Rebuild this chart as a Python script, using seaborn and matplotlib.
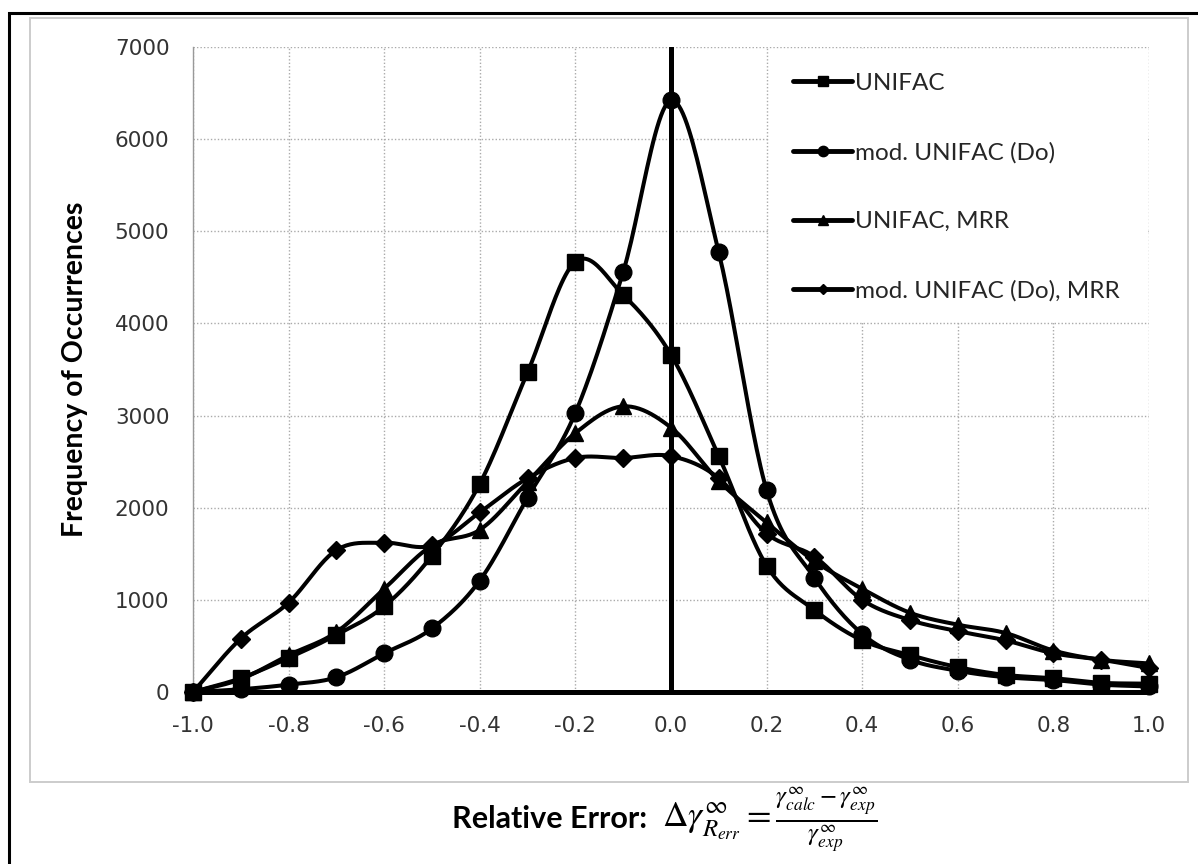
import numpy as np
import pandas as pd
import matplotlib
matplotlib.use("Agg")
import matplotlib.pyplot as plt
import seaborn as sns
from matplotlib.lines import Line2D
from matplotlib.patches import Rectangle
from matplotlib.ticker import FixedLocator, FuncFormatter

# Relative error bins and the number of occurrences for each model
rel_error = [-1.0, -0.9, -0.8, -0.7, -0.6, -0.5, -0.4, -0.3, -0.2, -0.1, 0.0,
             0.1, 0.2, 0.3, 0.4, 0.5, 0.6, 0.7, 0.8, 0.9, 1.0]
unifac = [0, 150, 370, 620, 930, 1480, 2260, 3470, 4670, 4310, 3660,
          2560, 1370, 890, 560, 400, 270, 185, 150, 100, 90]
mod_unifac_do = [0, 30, 80, 160, 420, 690, 1210, 2110, 3030, 4560, 6420,
                 4770, 2190, 1240, 630, 350, 230, 160, 130, 80, 60]
unifac_mrr = [0, 140, 400, 650, 1120, 1590, 1760, 2280, 2810, 3100, 2870,
              2290, 1840, 1420, 1120, 860, 730, 640, 450, 350, 310]
mod_unifac_do_mrr = [0, 580, 970, 1540, 1620, 1590, 1950, 2320, 2540, 2540, 2560,
                     2320, 1720, 1470, 1000, 780, 660, 560, 420, 350, 260]

series_names = ["UNIFAC", "mod. UNIFAC (Do)", "UNIFAC, MRR", "mod. UNIFAC (Do), MRR"]
series_values = [unifac, mod_unifac_do, unifac_mrr, mod_unifac_do_mrr]
series_markers = ["s", "o", "^", "D"]
series_msize = [12, 12, 12, 9]

x_ticks = [-1.0, -0.8, -0.6, -0.4, -0.2, 0.0, 0.2, 0.4, 0.6, 0.8, 1.0]
y_ticks = [0, 1000, 2000, 3000, 4000, 5000, 6000, 7000]


def smooth_curve(x, y, steps=24):
    """Catmull-Rom spline through the points (the usual 'smoothed line')."""
    x = np.asarray(x, float)
    y = np.asarray(y, float)
    px = np.concatenate([[2 * x[0] - x[1]], x, [2 * x[-1] - x[-2]]])
    py = np.concatenate([[2 * y[0] - y[1]], y, [2 * y[-1] - y[-2]]])
    t = np.linspace(0, 1, steps, endpoint=False)
    xs, ys = [], []
    for i in range(1, len(px) - 2):
        for p, out in ((px, xs), (py, ys)):
            p0, p1, p2, p3 = p[i - 1], p[i], p[i + 1], p[i + 2]
            out.append(0.5 * (2 * p1 + (-p0 + p2) * t
                              + (2 * p0 - 5 * p1 + 4 * p2 - p3) * t ** 2
                              + (-p0 + 3 * p1 - 3 * p2 + p3) * t ** 3))
    xs.append([x[-1]])
    ys.append([y[-1]])
    return np.concatenate(xs), np.concatenate(ys)


sns.set_theme(style="white")
plt.rcParams["font.family"] = ["DejaVu Sans"]
plt.rcParams["axes.unicode_minus"] = False
plt.rcParams["mathtext.fontset"] = "stix"

fig = plt.figure(figsize=(11.98, 8.64), dpi=100)
fig.patch.set_facecolor("white")
ax = fig.add_axes([193 / 1198, 1 - 692 / 864, 956 / 1198, 645 / 864])
ax.set_facecolor("white")

# Outer frame (left/top black rule) and the light grey chart-area border
fig.add_artist(Rectangle((8.5 / 1198, -0.2), 1.5, 1.2 - 12.5 / 864,
                         transform=fig.transFigure, fill=False,
                         edgecolor="black", lw=2.2, clip_on=False))
fig.add_artist(Rectangle((30 / 1198, 1 - 782 / 864), 1158 / 1198, 764 / 864,
                         transform=fig.transFigure, fill=False,
                         edgecolor="#cccccc", lw=1.4))

# Smoothed curves drawn with seaborn, markers at the actual bins
for name, vals, mk, ms in zip(series_names, series_values, series_markers, series_msize):
    sx, sy = smooth_curve(rel_error, vals)
    curve = pd.DataFrame({"x": sx, "y": sy})
    sns.lineplot(data=curve, x="x", y="y", ax=ax, color="black", lw=2.9,
                 estimator=None, sort=False, zorder=3)
    pts = pd.DataFrame({"x": rel_error, "y": vals})
    ax.plot(pts["x"], pts["y"], ls="none", marker=mk, ms=ms, color="black",
            mec="black", zorder=4, clip_on=False)

ax.axvline(0.0, color="black", lw=3.6, zorder=2.6)

ax.set_xlim(-1.0, 1.0)
ax.set_ylim(0, 7000)
ax.xaxis.set_major_locator(FixedLocator(x_ticks))
ax.yaxis.set_major_locator(FixedLocator(y_ticks))
ax.xaxis.set_major_formatter(FuncFormatter(lambda v, p: f"{v:.1f}".replace("-0.0", "0.0")))
ax.yaxis.set_major_formatter(FuncFormatter(lambda v, p: f"{int(round(v))}"))

ax.grid(True, color="#aaaaaa", linestyle=(0, (1, 1.5)), lw=1.0)
ax.set_axisbelow(True)
for side in ("top", "right"):
    ax.spines[side].set_visible(False)
ax.spines["left"].set_color("#999999")
ax.spines["left"].set_linewidth(1.0)
ax.spines["bottom"].set_color("black")
ax.spines["bottom"].set_linewidth(3.6)
ax.spines["bottom"].set_zorder(2.6)

ax.tick_params(axis="y", direction="out", length=5, width=1, color="#999999",
               labelsize=15.5, labelcolor="#333333", pad=12)
ax.tick_params(axis="x", length=0, labelsize=15.5, labelcolor="#333333", pad=17)

ax.set_xlabel("")
ax.set_ylabel("Frequency of Occurrences", family="Lato", weight="bold",
              fontsize=20.5, color="black", labelpad=19)

# Legend panel
ax.add_patch(Rectangle((0.6 + 0.002, 4 / 7 + 0.003), 0.4 - 0.004, 3 / 7 - 0.006,
                       transform=ax.transAxes, facecolor="white",
                       edgecolor="none", zorder=1))
handles = [Line2D([], [], color="black", lw=3.5, marker=mk, ms=ms * 0.62)
           for mk, ms in zip(series_markers, series_msize)]
leg = ax.legend(handles, series_names, loc="upper left",
                bbox_to_anchor=(0.628, 0.960), frameon=False,
                prop={"family": "Lato", "size": 17.5},
                handlelength=2.4, handletextpad=0.15, labelspacing=1.97,
                borderpad=0, borderaxespad=0)
leg.set_zorder(5)

# Axis title with the relative error definition
fig.text(452 / 1198, 1 - 828 / 864, "Relative Error:", family="Lato",
         weight="bold", fontsize=22, ha="left", va="baseline", color="black")
fig.text(662 / 1198, 1 - 820 / 864,
         r"$\Delta\gamma^{\infty}_{R_{err}} = \frac{\gamma^{\infty}_{calc}-\gamma^{\infty}_{exp}}{\gamma^{\infty}_{exp}}$",
         fontsize=25.5, ha="left", va="center", color="black")

fig.savefig("out.png", dpi=100, facecolor="white")
